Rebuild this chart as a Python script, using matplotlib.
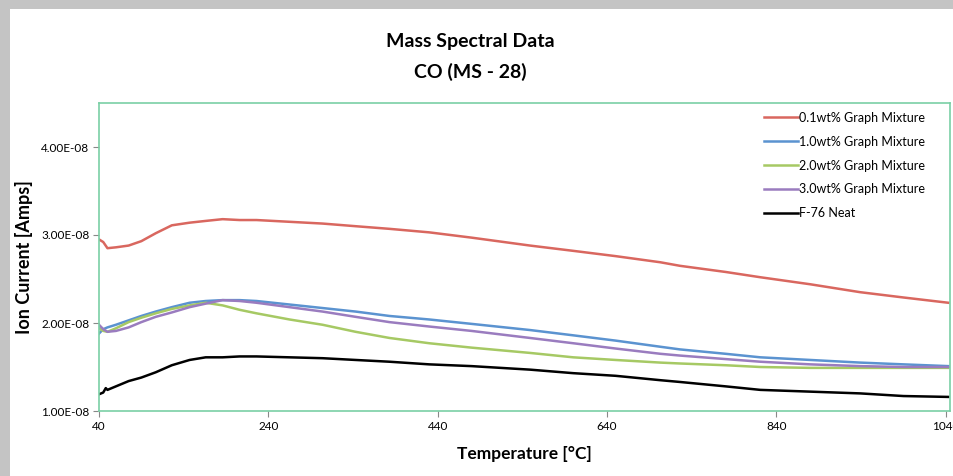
import matplotlib
matplotlib.use('agg')
import matplotlib.pyplot as plt
from matplotlib.patches import Rectangle
from matplotlib.ticker import FuncFormatter
import numpy as np

plt.rcParams['font.family'] = ['Lato', 'DejaVu Sans']

# temperature grid [C]
temp = [40, 45, 50, 60, 75, 90, 107, 126, 147, 166, 186, 206, 226, 265, 304,
        343, 383, 430, 480, 549, 600, 650, 703, 726, 780, 821, 880, 939, 990, 1043]
temp_neat = [40, 45, 48, 50, 60, 75, 90, 107, 126, 147, 166, 186, 206, 226, 265, 304,
             343, 383, 430, 480, 549, 600, 650, 703, 726, 780, 821, 880, 939, 990, 1043]

# ion current in units of 1e-8 A
graph_01 = [2.95, 2.92, 2.85, 2.86, 2.88, 2.93, 3.02, 3.11, 3.14, 3.16, 3.18, 3.17, 3.17, 3.15, 3.13,
            3.10, 3.07, 3.03, 2.97, 2.88, 2.82, 2.76, 2.69, 2.65, 2.58, 2.52, 2.44, 2.35, 2.29, 2.23]
graph_10 = [1.88, 1.93, 1.95, 1.98, 2.03, 2.08, 2.13, 2.18, 2.23, 2.25, 2.26, 2.26, 2.25, 2.21, 2.17,
            2.13, 2.08, 2.04, 1.99, 1.92, 1.86, 1.80, 1.73, 1.70, 1.65, 1.61, 1.58, 1.55, 1.53, 1.51]
graph_20 = [1.94, 1.91, 1.90, 1.94, 2.01, 2.06, 2.11, 2.16, 2.20, 2.23, 2.20, 2.15, 2.11, 2.04, 1.98,
            1.90, 1.83, 1.77, 1.72, 1.66, 1.61, 1.58, 1.55, 1.54, 1.52, 1.50, 1.49, 1.49, 1.49, 1.49]
graph_30 = [1.98, 1.93, 1.90, 1.91, 1.95, 2.01, 2.07, 2.12, 2.18, 2.22, 2.26, 2.25, 2.23, 2.18, 2.13,
            2.07, 2.01, 1.96, 1.91, 1.83, 1.77, 1.71, 1.65, 1.63, 1.59, 1.56, 1.53, 1.51, 1.50, 1.50]
neat = [1.19, 1.21, 1.26, 1.24, 1.28, 1.34, 1.38, 1.44, 1.52, 1.58, 1.61, 1.61, 1.62, 1.62, 1.61, 1.60,
        1.58, 1.56, 1.53, 1.51, 1.47, 1.43, 1.40, 1.35, 1.33, 1.28, 1.24, 1.22, 1.20, 1.17, 1.16]

labels = ['0.1wt% Graph Mixture', '1.0wt% Graph Mixture', '2.0wt% Graph Mixture',
          '3.0wt% Graph Mixture', 'F-76 Neat']
colours = ['#d9675f', '#5b93d0', '#a6c964', '#9a7cbf', '#000000']
x_ticks = [40, 240, 440, 640, 840, 1040]
y_ticks = [1e-8, 2e-8, 3e-8, 4e-8]

fig = plt.figure(figsize=(9.54, 4.76), dpi=100)
fig.patch.set_facecolor('#c4c4c4')
#white card inside the screenshot shadow
fig.patches.append(Rectangle((10 / 954, 0), 1, 1 - 9 / 476, transform=fig.transFigure,
                             facecolor='white', edgecolor='none', zorder=-5))

ax = fig.add_axes([99 / 954, 1 - 411 / 476, 851 / 954, 308 / 476])
ax.set_zorder(2)

series = [graph_01, graph_10, graph_20, graph_30]
for vals, lab, col in zip(series, labels[:4], colours[:4]):
    ax.plot(temp, np.array(vals) * 1e-8, color=col, lw=1.8, label=lab)
ax.plot(temp_neat, np.array(neat) * 1e-8, color=colours[4], lw=1.8, label=labels[4])

ax.set_xlim(40, 1045)
ax.set_ylim(1e-8, 4.5e-8)
ax.set_xticks(x_ticks)
ax.set_yticks(y_ticks)
ax.yaxis.set_major_formatter(FuncFormatter(lambda v, p: '{:.2E}'.format(v)))
ax.tick_params(labelsize=8.5, length=4, color='#888888', direction='out', pad=3)
for s in ax.spines.values():
    s.set_color('#7acfa5')
    s.set_linewidth(1.2)

fig.text(0.493, 1 - 42 / 476, 'Mass Spectral Data', ha='center', va='center',
         fontsize=14, fontweight='bold')
fig.text(0.493, 1 - 72 / 476, 'CO (MS - 28)', ha='center', va='center',
         fontsize=14, fontweight='bold')
ax.set_xlabel('Temperature [°C]', fontsize=12.5, fontweight='bold', labelpad=10)
ax.set_ylabel('Ion Current [Amps]', fontsize=13, fontweight='bold', labelpad=6)

ax.legend(loc='upper right', frameon=False, fontsize=9, handlelength=2.7,
          handletextpad=0.1, labelspacing=0.95, borderaxespad=0.3,
          bbox_to_anchor=(0.981, 1.0))

plt.savefig('out.png', dpi=100)
